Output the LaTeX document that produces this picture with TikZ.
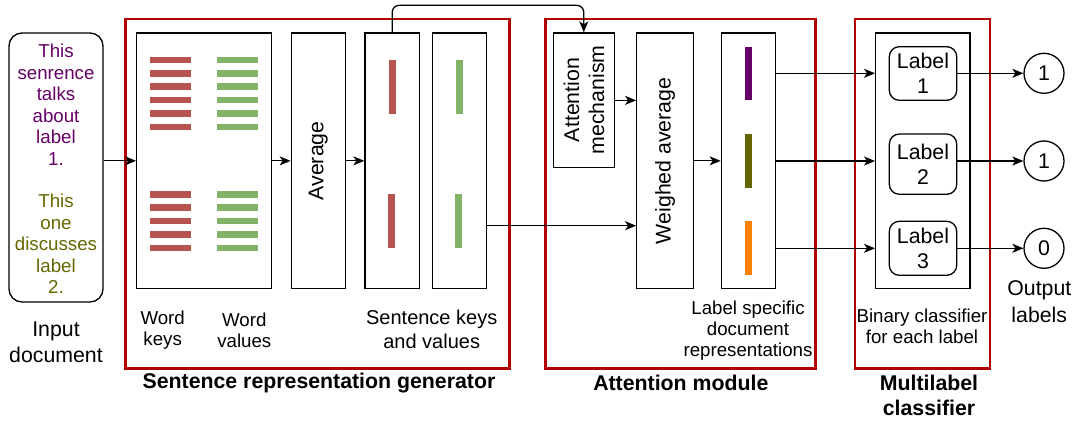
\documentclass[tikz,border=0pt]{standalone}
\usepackage{fontspec}
\setmainfont{Liberation Sans}
\usetikzlibrary{arrows.meta}
\definecolor{frame}{HTML}{B20000}
\definecolor{kred}{HTML}{B85450}
\definecolor{vgreen}{HTML}{82B366}
\definecolor{tpurple}{HTML}{660066}
\definecolor{tolive}{HTML}{666600}
\definecolor{borange}{HTML}{FF8000}
\newcommand\fsmall{\fontsize{18.7}{21.45}\selectfont}
\newcommand\fmid{\fontsize{20}{24}\selectfont}
\newcommand\fbig{\fontsize{21.3}{25}\selectfont}
\newcommand\fbold{\fontsize{21.3}{25}\selectfont\bfseries}
\begin{document}
\begin{tikzpicture}[x=1pt,y=-1pt,
  box/.style={draw=black,line width=1.3pt,fill=white,inner sep=0pt},
  frm/.style={draw=frame,line width=2.7pt},
  arr/.style={-{Stealth[length=11pt,width=9pt,inset=3pt]},line width=1.3pt},
  txt/.style={align=center,inner sep=0pt},
  bar/.style={inner sep=0pt,draw=none}]
\useasboundingbox (0,0) rectangle (1075,422);
% frames
\node[frm,inner sep=0pt,minimum width=383.6pt,minimum height=349.7pt] (g1) at (317.5,193.85) {};
\node[frm,inner sep=0pt,minimum width=270pt,minimum height=349.7pt] (g2) at (680.7,193.85) {};
\node[frm,inner sep=0pt,minimum width=135pt,minimum height=349.7pt] (g3) at (922.5,193.85) {};
% boxes
\node[box,rounded corners=13pt,minimum width=94pt,minimum height=269pt] (in) at (56,167.5) {};
\node[box,minimum width=135pt,minimum height=255.7pt] (wbox) at (204.2,160.85) {};
\node[box,minimum width=54pt,minimum height=255.7pt] (avg) at (318.3,160.85) {};
\node[box,minimum width=54.3pt,minimum height=255.7pt] (skeys) at (392.15,160.85) {};
\node[box,minimum width=54.4pt,minimum height=255.7pt] (svals) at (459.5,160.85) {};
\node[box,minimum width=61pt,minimum height=134.7pt] (attn) at (583.8,100.35) {};
\node[box,minimum width=56.6pt,minimum height=255.7pt] (wavg) at (665,160.85) {};
\node[box,minimum width=54.4pt,minimum height=255.7pt] (lspec) at (748.5,160.85) {};
\node[box,minimum width=94.3pt,minimum height=255.7pt] (cls) at (922.85,160.85) {};
\node[box,rounded corners=10pt,minimum width=67.4pt,minimum height=53.6pt,align=center,font=\fbig] (lab1) at (923,73.5) {Label\\1};
\node[box,rounded corners=10pt,minimum width=67.4pt,minimum height=60.3pt,align=center,font=\fbig] (lab2) at (923,164.15) {Label\\2};
\node[box,rounded corners=10pt,minimum width=67.4pt,minimum height=54pt,align=center,font=\fbig] (lab3) at (923,248.3) {Label\\3};
\node[box,circle,minimum size=40pt,font=\fbig] (o1) at (1044,73.3) {1};
\node[box,circle,minimum size=40pt,font=\fbig] (o2) at (1044,161) {1};
\node[box,circle,minimum size=40pt,font=\fbig] (o3) at (1044,248.3) {0};
% word bars
\foreach \y in {60,73.4,86.8,100.2,113.6,127,194.3,207.7,221.1,234.5,247.9}{
  \fill[kred] (150,\y-3.3) rectangle (190.7,\y+3.3);
  \fill[vgreen] (217.3,\y-3.3) rectangle (257.7,\y+3.3);
}
% sentence bars
\fill[kred] (389,60) rectangle (395.7,113.7);
\fill[kred] (388.3,194.3) rectangle (395,248.3);
\fill[vgreen] (456,60) rectangle (463,113.7);
\fill[vgreen] (455,194.3) rectangle (462,248.3);
% label specific bars
\fill[tpurple] (745.3,46.7) rectangle (752,100.3);
\fill[tolive] (745.3,134) rectangle (752,187.7);
\fill[borange] (745.3,221.3) rectangle (752,275);
% rotated texts
\node[txt,rotate=90,font=\fbig] (avgt) at (avg.center) {Average};
\node[txt,rotate=90,font=\fbig] (wavgt) at (wavg.center) {Weighed average};
\node[txt,rotate=90,font=\fbig] (attnt) at (584,100) {Attention\\mechanism};
% input text
\node[txt,font=\fsmall] (intext) at (56,169) {\color{tpurple}This\\\color{tpurple}senrence\\\color{tpurple}talks\\\color{tpurple}about\\\color{tpurple}label\\\color{tpurple}1.\\[21.45pt]\color{tolive}This\\\color{tolive}one\\\color{tolive}discusses\\\color{tolive}label\\\color{tolive}2.};
% labels
\node[txt,font=\fontsize{21.3}{26}\selectfont] (inlab) at (56,342) {Input\\document};
\node[txt,font=\fontsize{18.7}{21}\selectfont] (wk) at (162.7,330.3) {Word\\keys};
\node[txt,font=\fontsize{18.7}{21}\selectfont] (wv) at (244.3,330.3) {Word\\values};
\node[txt,font=\fmid] (skv) at (431.7,329.7) {Sentence keys\\and values};
\node[txt,font=\fontsize{18.7}{21.2}\selectfont] (lsr) at (748,330.5) {Label specific\\document\\representations};
\node[txt,font=\fontsize{18.7}{20.7}\selectfont] (bcl) at (922,326.3) {Binary classifier\\for each label};
\node[txt,font=\fontsize{21.3}{26.7}\selectfont] (outl) at (1039.3,301.7) {Output\\labels};
\node[txt,font=\fbold] (t1) at (319,383.3) {Sentence representation generator};
\node[txt,font=\fbold] (t2) at (680.8,383.3) {Attention module};
\node[txt,font=\fbold] (t3) at (929,395.8) {Multilabel\\classifier};
% connectors
\coordinate (vy) at (0,225.7);
\draw[arr] (in.east |- wbox.west) -- (wbox.west);
\draw[arr] (wbox.east) -- (avg.west);
\draw[arr] (avg.east) -- (skeys.west);
\draw[arr,rounded corners=7pt] (skeys.north) -- ++(0,-27) -| (attn.north);
\draw[arr] (attn.east) -- (attn.east -| wavg.west);
\draw[arr] (svals.east |- vy) -- (wavg.west |- vy);
\draw[arr] (wavg.east) -- (lspec.west);
\draw[arr] (lspec.east |- o1) -- (cls.west |- o1);
\draw[arr] (lspec.east |- o2) -- (cls.west |- o2);
\draw[arr] (lspec.east |- o3) -- (cls.west |- o3);
\draw[arr] (lab1.east |- o1) -- (o1);
\draw[arr] (lab2.east |- o2) -- (o2);
\draw[arr] (lab3.east |- o3) -- (o3);
\end{tikzpicture}
\end{document}
